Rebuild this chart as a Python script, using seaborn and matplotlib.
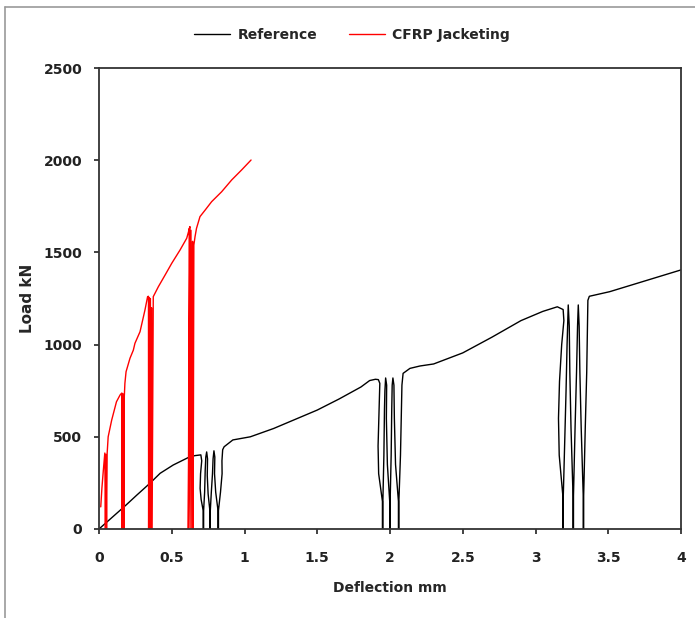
import matplotlib
matplotlib.use("Agg")
import matplotlib.pyplot as plt
import seaborn as sns
import pandas as pd
from matplotlib.lines import Line2D

# Load-deflection history of the unstrengthened column (cyclic unload/reload loops)
reference_x = [0.0, 0.186, 0.26, 0.35, 0.42, 0.51, 0.625, 0.66, 0.694, 0.70,
               # loops near 0.7 mm
               0.706, 0.698, 0.695, 0.702, 0.716, 0.716,
               0.719, 0.719, 0.726, 0.73, 0.734, 0.74,
               0.746, 0.744, 0.75, 0.762, 0.762,
               0.765, 0.765, 0.772, 0.78, 0.784, 0.79,
               0.796, 0.794, 0.802, 0.818, 0.818,
               0.821, 0.821, 0.835, 0.846, 0.845, 0.85, 0.86,
               0.92, 1.04, 1.2, 1.38, 1.5, 1.65, 1.8, 1.86, 1.9, 1.92,
               # loops near 2 mm
               1.93, 1.925, 1.918, 1.922, 1.948, 1.948,
               1.951, 1.951, 1.958, 1.962, 1.965, 1.97,
               1.977, 1.975, 1.982, 1.998, 1.998,
               2.001, 2.001, 2.008, 2.012, 2.015, 2.02,
               2.027, 2.03, 2.038, 2.058, 2.058,
               2.061, 2.061, 2.072, 2.078, 2.082, 2.09, 2.137, 2.206, 2.3,
               2.5, 2.7, 2.9, 3.05, 3.15, 3.19,
               # loops near 3.2 mm
               3.195, 3.18, 3.165, 3.158, 3.163, 3.188, 3.188,
               3.191, 3.191, 3.2, 3.21, 3.217, 3.225,
               3.232, 3.236, 3.244, 3.258, 3.258,
               3.261, 3.261, 3.272, 3.282, 3.289, 3.294,
               3.30, 3.305, 3.314, 3.328, 3.328,
               3.331, 3.331, 3.342, 3.352, 3.357, 3.36, 3.37,
               3.51, 3.75, 4.0]
reference_y = [0, 130, 184, 248, 302, 347, 392, 398, 401, 402,
               370, 300, 220, 160, 100, 0,
               0, 100, 200, 320, 390, 418,
               380, 290, 190, 100, 0,
               0, 100, 200, 300, 380, 424,
               390, 300, 200, 100, 0,
               0, 100, 200, 300, 370, 430, 446,
               483, 500, 545, 605, 645, 705, 770, 805, 812, 810,
               790, 650, 450, 300, 150, 0,
               0, 150, 400, 650, 750, 819,
               780, 600, 350, 150, 0,
               0, 150, 400, 650, 780, 819,
               780, 600, 350, 150, 0,
               0, 150, 400, 620, 780, 844, 871, 884, 895,
               955, 1040, 1130, 1180, 1205, 1190,
               1130, 1000, 800, 600, 400, 180, 0,
               0, 180, 450, 750, 1000, 1215,
               1100, 850, 550, 180, 0,
               0, 180, 550, 850, 1100, 1215,
               1100, 850, 550, 180, 0,
               0, 180, 550, 850, 1100, 1240, 1262,
               1287, 1345, 1405]

# Load-deflection history of the CFRP-jacketed column
cfrp_x = [0.012, 0.02, 0.03, 0.04,
          0.044, 0.048, 0.052, 0.056,
          0.063, 0.087, 0.12, 0.145, 0.156,
          0.158, 0.162, 0.165, 0.168, 0.171, 0.174,
          0.178, 0.186, 0.213, 0.236, 0.247, 0.282, 0.316, 0.334, 0.34,
          0.341, 0.345, 0.349, 0.353, 0.357, 0.361, 0.365,
          0.373, 0.408, 0.454, 0.5, 0.557, 0.603, 0.618, 0.625,
          0.614, 0.620, 0.626, 0.632, 0.638, 0.643, 0.647,
          0.652, 0.66, 0.67, 0.694, 0.73, 0.774, 0.843, 0.912, 0.98, 1.045]
cfrp_y = [120, 222, 320, 412,
          0, 405, 0, 410,
          500, 590, 690, 727, 737,
          0, 735, 0, 730, 0, 720,
          790, 853, 926, 970, 1007, 1070, 1188, 1260, 1262,
          0, 1255, 0, 1250, 0, 1200, 0,
          1260, 1314, 1377, 1441, 1513, 1577, 1620, 1640,
          0, 1630, 0, 1620, 0, 1560, 0,
          1540, 1585, 1630, 1694, 1730, 1775, 1829, 1893, 1947, 2001]

series_names = ["Reference", "CFRP Jacketing"]
series_colors = ["#000000", "#ff0000"]

x_ticks = [0, 0.5, 1, 1.5, 2, 2.5, 3, 3.5, 4]
x_tick_labels = ["0", "0.5", "1", "1.5", "2", "2.5", "3", "3.5", "4"]
y_ticks = [0, 500, 1000, 1500, 2000, 2500]

df = pd.concat([
    pd.DataFrame({"Deflection": reference_x, "Load": reference_y,
                  "Series": series_names[0]}),
    pd.DataFrame({"Deflection": cfrp_x, "Load": cfrp_y,
                  "Series": series_names[1]}),
], ignore_index=True)

sns.set_theme(style="white")
plt.rcParams["font.family"] = ["DejaVu Sans"]
plt.rcParams["font.weight"] = "bold"

fig = plt.figure(figsize=(6.95, 6.18), dpi=100)
ax = fig.add_axes([99 / 695, 1 - 529 / 618, (681 - 99) / 695, (529 - 68) / 618])

sns.lineplot(data=df, x="Deflection", y="Load", hue="Series",
             palette=dict(zip(series_names, series_colors)),
             sort=False, estimator=None, linewidth=1.0, ax=ax, legend=True)

ax.set_xlim(0, 4)
ax.set_ylim(0, 2500)
ax.set_xticks(x_ticks)
ax.set_xticklabels(x_tick_labels)
ax.set_yticks(y_ticks)
ax.tick_params(axis="both", direction="out", length=3.6, width=1.2,
               colors="#222222", labelsize=10, labelcolor="#222222",
               bottom=True, left=True)
ax.tick_params(axis="x", pad=12)
ax.tick_params(axis="y", pad=8.5)
for lbl in ax.get_xticklabels() + ax.get_yticklabels():
    lbl.set_fontweight("bold")
for side in ["left", "right", "top", "bottom"]:
    ax.spines[side].set_visible(True)
    ax.spines[side].set_color("#333333")
    ax.spines[side].set_linewidth(1.3)

ax.set_xlabel("Deflection mm", fontsize=10, fontweight="bold", labelpad=12)
ax.set_ylabel("Load kN", fontsize=11, fontweight="bold", labelpad=6)

handles, labels = ax.get_legend_handles_labels()
ax.get_legend().remove()
fig.legend(handles, labels, loc="center", bbox_to_anchor=(352 / 695, 1 - 35 / 618),
           ncol=2, frameon=False, handlelength=2.6,
           handletextpad=0.5, columnspacing=2.3, prop={"weight": "bold", "size": 10})

# outer frame edges
fig.add_artist(Line2D([5 / 695, 1.0], [1 - 7 / 618, 1 - 7 / 618],
                      transform=fig.transFigure, color="#9a9a9a", linewidth=1.2))
fig.add_artist(Line2D([5 / 695, 5 / 695], [0.0, 1 - 7 / 618],
                      transform=fig.transFigure, color="#9a9a9a", linewidth=1.2))

fig.savefig("out.png", dpi=100)
